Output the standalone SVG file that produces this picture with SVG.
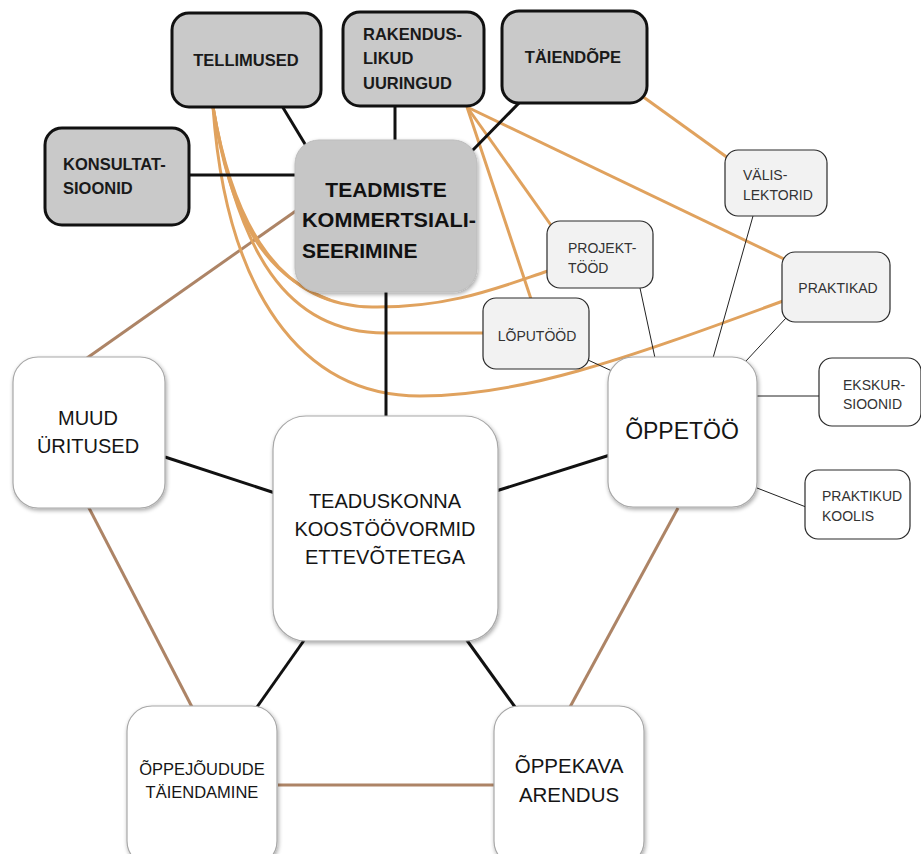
<svg xmlns="http://www.w3.org/2000/svg" width="921" height="854" viewBox="0 0 921 854">
  <defs>
    <filter id="soft" x="-10%" y="-10%" width="125%" height="125%">
      <feGaussianBlur in="SourceAlpha" stdDeviation="2"/>
      <feOffset dx="1" dy="2" result="b"/>
      <feComponentTransfer><feFuncA type="linear" slope="0.35"/></feComponentTransfer>
      <feMerge><feMergeNode/><feMergeNode in="SourceGraphic"/></feMerge>
    </filter>
  </defs>
  <style>
    text { font-family: "Liberation Sans", Arial, sans-serif; }
    .dark rect { fill: #c9c9c9; stroke: #111; stroke-width: 3; }
    .dark text { font-weight: bold; font-size: 16.5px; fill: #1a1a1a; }
    .light rect { fill: #f2f2f2; stroke: #2a2a2a; stroke-width: 1.2; }
    .light.white rect { fill: #ffffff; }
    .light text { font-size: 14px; fill: #333; }
    .big rect { fill: #ffffff; stroke: #a8a8a8; stroke-width: 1.2; filter: url(#soft); }
    .big text { fill: #151515; }
    .blk { stroke: #111; stroke-width: 3; fill: none; }
    .thin { stroke: #222; stroke-width: 1; fill: none; }
    .brn { stroke: #ad8466; stroke-width: 3; fill: none; }
    .org { stroke: #e0a25e; stroke-width: 3; fill: none; }
  </style>

  <g id="connectors">
    <!-- brown ring between the main fields -->
    <line class="brn" x1="300" y1="208" x2="87" y2="358"/>
    <line class="brn" x1="88" y1="506" x2="192" y2="707"/>
    <line class="brn" x1="278" y1="785" x2="496" y2="785"/>
    <line class="brn" x1="570" y1="707" x2="678" y2="508"/>

    <!-- orange links -->
    <line class="org" x1="642" y1="96" x2="728" y2="158"/>
    <line class="org" x1="467" y1="107" x2="784" y2="259"/>
    <line class="org" x1="467" y1="107" x2="553" y2="228"/>
    <line class="org" x1="467" y1="107" x2="531" y2="299"/>
    <path class="org" d="M213,107 C230,215 262,275 330,300"/>
    <path class="org" d="M213,107 C234,230 282,306 372,307 C450,308 500,287 548,271"/>
    <path class="org" d="M213,107 C238,250 285,333 385,333 L484,333"/>
    <path class="org" d="M213,107 C226,290 300,396 420,396 C520,396 620,361 783,301"/>

    <!-- black links -->
    <line class="blk" x1="282" y1="106" x2="308" y2="149"/>
    <line class="blk" x1="395" y1="105" x2="395" y2="142"/>
    <line class="blk" x1="521" y1="101" x2="471" y2="152"/>
    <line class="blk" x1="188" y1="175" x2="297" y2="175"/>
    <line class="blk" x1="386" y1="290" x2="386" y2="418"/>
    <line class="blk" x1="165" y1="457" x2="275" y2="493"/>
    <line class="blk" x1="496" y1="491" x2="610" y2="455"/>
    <line class="blk" x1="305" y1="639" x2="257" y2="707"/>
    <line class="blk" x1="466" y1="639" x2="515" y2="707"/>

    <!-- thin links around ÕPPETÖÖ -->
    <line class="thin" x1="640" y1="288" x2="655" y2="358"/>
    <line class="thin" x1="753" y1="216" x2="713" y2="358"/>
    <line class="thin" x1="786" y1="318" x2="746" y2="361"/>
    <line class="thin" x1="588" y1="360" x2="612" y2="371"/>
    <line class="thin" x1="757" y1="396" x2="820" y2="396"/>
    <line class="thin" x1="757" y1="488" x2="806" y2="507"/>
  </g>

  <g id="tellimused" class="dark">
    <rect x="172" y="13" width="149" height="94" rx="17"/>
    <text x="246" y="66" text-anchor="middle">TELLIMUSED</text>
  </g>
  <g id="rakenduslikud" class="dark">
    <rect x="343" y="12" width="141" height="94" rx="17"/>
    <text x="363" y="40">RAKENDUS-</text>
    <text x="363" y="64">LIKUD</text>
    <text x="363" y="89">UURINGUD</text>
  </g>
  <g id="taiendope" class="dark">
    <rect x="502" y="11" width="145" height="92" rx="17"/>
    <text x="573" y="63" text-anchor="middle">TÄIENDÕPE</text>
  </g>
  <g id="konsultatsioonid" class="dark">
    <rect x="45" y="128" width="144" height="97" rx="17"/>
    <text x="63" y="170">KONSULTAT-</text>
    <text x="63" y="194">SIOONID</text>
  </g>

  <g id="teadmiste">
    <rect x="295" y="140" width="182" height="152" rx="24" fill="#c6c6c6" stroke="#bdbdbd" stroke-width="1" filter="url(#soft)"/>
    <text x="386" y="197" text-anchor="middle" font-weight="bold" font-size="21" fill="#111">TEADMISTE</text>
    <text x="302" y="227" font-weight="bold" font-size="21" fill="#111" textLength="174" lengthAdjust="spacingAndGlyphs">KOMMERTSIALI-</text>
    <text x="302" y="258" font-weight="bold" font-size="21" fill="#111">SEERIMINE</text>
  </g>

  <g id="valislektorid" class="light">
    <rect x="725" y="150" width="102" height="66" rx="13"/>
    <text x="743" y="180">VÄLIS-</text>
    <text x="743" y="200">LEKTORID</text>
  </g>
  <g id="projekttood" class="light">
    <rect x="547" y="221" width="106" height="67" rx="13"/>
    <text x="568" y="253">PROJEKT-</text>
    <text x="568" y="273">TÖÖD</text>
  </g>
  <g id="praktikad" class="light">
    <rect x="782" y="252" width="108" height="70" rx="13"/>
    <text x="838" y="293" text-anchor="middle">PRAKTIKAD</text>
  </g>
  <g id="loputood" class="light">
    <rect x="483" y="298" width="106" height="71" rx="13"/>
    <text x="537" y="341" text-anchor="middle">LÕPUTÖÖD</text>
  </g>
  <g id="ekskursioonid" class="light white">
    <rect x="819" y="358" width="102" height="68" rx="13"/>
    <text x="843" y="390">EKSKUR-</text>
    <text x="843" y="409">SIOONID</text>
  </g>
  <g id="praktikud-koolis" class="light white">
    <rect x="805" y="470" width="105" height="69" rx="13"/>
    <text x="822" y="501">PRAKTIKUD</text>
    <text x="822" y="521">KOOLIS</text>
  </g>

  <g id="oppetoo" class="big">
    <rect x="608" y="357" width="149" height="150" rx="25"/>
    <text x="682" y="439" text-anchor="middle" font-size="23">ÕPPETÖÖ</text>
  </g>
  <g id="muud-uritused" class="big">
    <rect x="13" y="357" width="152" height="151" rx="25"/>
    <text x="88" y="425" text-anchor="middle" font-size="20">MUUD</text>
    <text x="88" y="453" text-anchor="middle" font-size="20">ÜRITUSED</text>
  </g>
  <g id="teaduskonna" class="big">
    <rect x="273" y="416" width="225" height="225" rx="33"/>
    <text x="385" y="508" text-anchor="middle" font-size="20">TEADUSKONNA</text>
    <text x="385" y="536" text-anchor="middle" font-size="20">KOOSTÖÖVORMID</text>
    <text x="385" y="564" text-anchor="middle" font-size="20">ETTEVÕTETEGA</text>
  </g>
  <g id="oppejoudude" class="big">
    <rect x="127" y="706" width="150" height="160" rx="25"/>
    <text x="202" y="775" text-anchor="middle" font-size="16.5">ÕPPEJÕUDUDE</text>
    <text x="202" y="798" text-anchor="middle" font-size="16.5">TÄIENDAMINE</text>
  </g>
  <g id="oppekava" class="big">
    <rect x="494" y="706" width="150" height="160" rx="25"/>
    <text x="569" y="773" text-anchor="middle" font-size="20.5">ÕPPEKAVA</text>
    <text x="569" y="802" text-anchor="middle" font-size="20.5">ARENDUS</text>
  </g>
</svg>
